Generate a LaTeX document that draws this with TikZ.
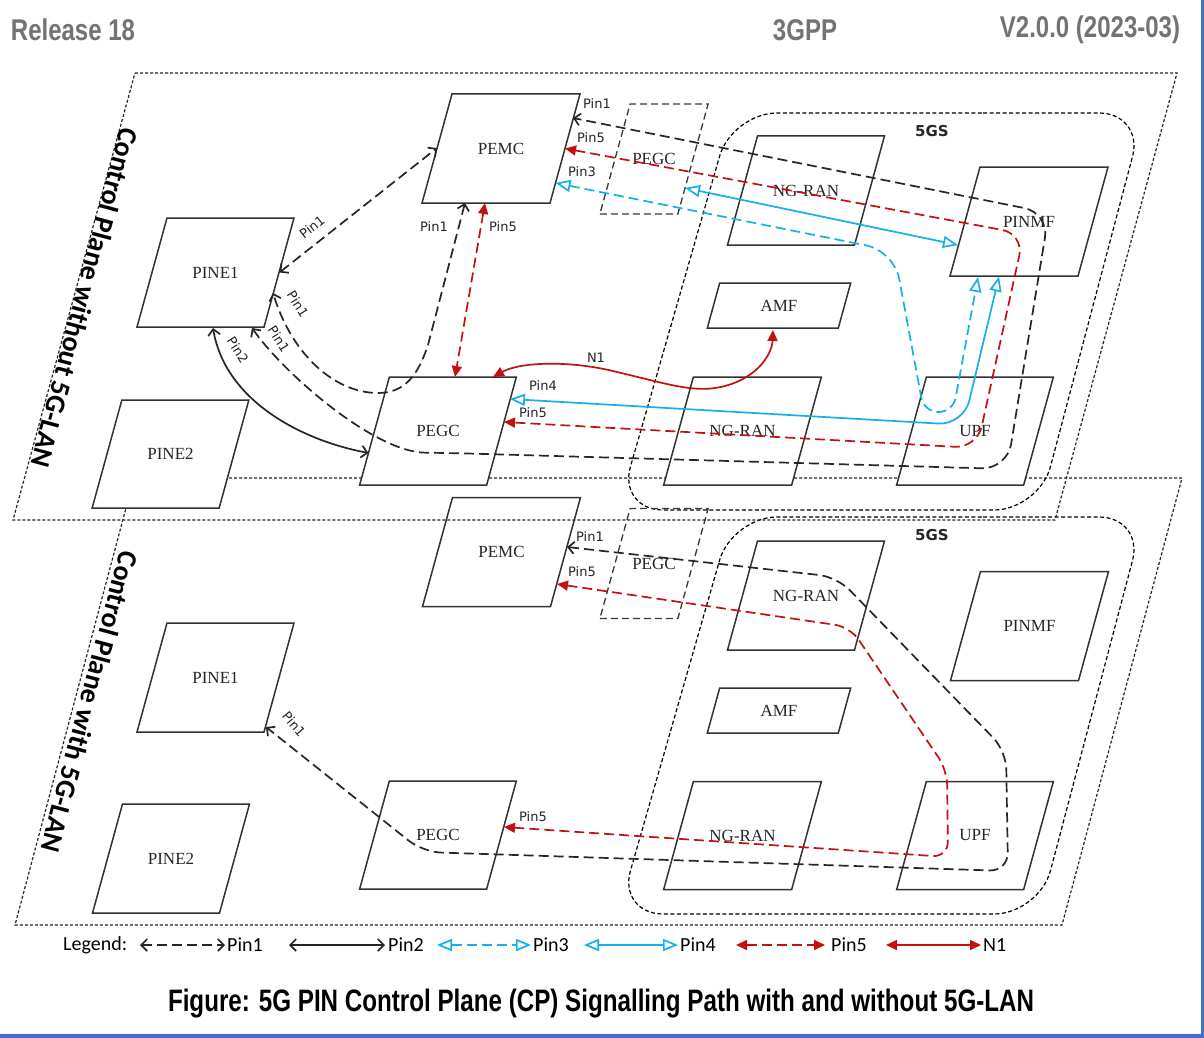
\documentclass[tikz,border=0pt]{standalone}
\usepackage{fontspec}
\setmainfont{Liberation Serif}
\newfontfamily\hdrfont[FakeStretch=0.8]{Liberation Sans}
\newfontfamily\capfont[FakeStretch=0.78]{Liberation Sans}
\newfontfamily\pinfont{DejaVu Sans}
\newfontfamily\calfont{Carlito}
\usetikzlibrary{arrows.meta,calc}
\definecolor{pinblue}{RGB}{20,176,236}
\definecolor{pinred}{RGB}{196,16,16}
\definecolor{boxgray}{RGB}{50,50,50}
\definecolor{hdrgray}{RGB}{115,115,115}
\definecolor{frameblue}{RGB}{68,114,196}
\tikzset{
  boxline/.style={draw=boxgray, fill=white, line width=1.5pt},
  lanline/.style={draw=black!78, line width=1.3pt, dash pattern=on 7pt off 4pt},
  boxtext/.style={font=\fontsize{17}{17}\selectfont, inner sep=0pt, text=black!85},
  region/.style={draw=black!85, line width=1.2pt, dash pattern=on 3pt off 2pt},
  gsline/.style={draw=black, line width=1.2pt, dash pattern=on 4pt off 2.5pt, rounded corners=45pt},
  pbarb/.tip={Straight Barb[length=6pt,width=12pt]},
  popen/.tip={Triangle[open,length=15pt,width=12pt]},
  pfill/.tip={Triangle[length=11pt,width=10pt]},
  pindash/.style={dash pattern=on 10pt off 5pt},
  pinone/.style={line width=1.7pt, draw=black!85, pindash, pbarb-pbarb},
  pintwo/.style={line width=1.7pt, draw=black!85, pbarb-pbarb},
  pinthree/.style={line width=1.7pt, draw=pinblue, pindash, popen-popen},
  pinfour/.style={line width=1.7pt, draw=pinblue, popen-popen},
  pinfive/.style={line width=1.7pt, draw=pinred, pindash, pfill-pfill},
  sigN/.style={line width=1.7pt, draw=pinred, pfill-pfill},
  plabel/.style={font=\pinfont\fontsize{13}{13}\selectfont, inner sep=0pt, text=black!85},
  hdr/.style={font=\hdrfont\bfseries\fontsize{30}{30}\selectfont, text=hdrgray, inner sep=0pt},
  capt/.style={font=\capfont\bfseries\fontsize{31}{31}\selectfont, text=black, inner sep=0pt},
  regl/.style={font=\calfont\bfseries\fontsize{28}{28}\selectfont, text=black, inner sep=0pt},
  gslabel/.style={font=\pinfont\bfseries\fontsize{15}{15}\selectfont, text=black!85, inner sep=0pt},
  legtext/.style={font=\calfont\fontsize{20}{20}\selectfont, text=black, inner sep=0pt},
}
\newcommand\pgbox[7]{%
  \pgfmathsetmacro\pbhw{#5/2}%
  \pgfmathsetmacro\pbhh{#6/2}%
  \pgfmathsetmacro\pbo{0.275*#6/2}%
  \draw[#1] ({#3-\pbhw-\pbo},{#4+\pbhh}) -- ({#3+\pbhw-\pbo},{#4+\pbhh}) -- ({#3+\pbhw+\pbo},{#4-\pbhh}) -- ({#3-\pbhw+\pbo},{#4-\pbhh}) -- cycle;
  \node[boxtext] (#2) at (#3,#4) {#7};}
\begin{document}
\begin{tikzpicture}[x=1pt,y=-1pt]
\useasboundingbox (0,0) rectangle (1204,1038);
\fill[white] (0,0) rectangle (1204,1038);

% header
\node[hdr] (rel) at (73,30) {Release 18};
\node[hdr] (gpp) at (805,30) {3GPP};
\node[hdr] (ver) at (1090,30) {V2.0.0 (2023-03)};

% lower region and 5GS areas
\draw[region] (134,478) -- (1182,478) -- (1062,925) -- (15,925) -- cycle;
\draw[gsline] (938,113) -- (1144,113) -- (1039,510) -- (618,510) -- (732,113) -- cycle;
\draw[gsline] (938,517) -- (1144,517) -- (1039,914) -- (618,914) -- (732,517) -- cycle;
\node[gslabel] (gs1) at (932,131) {5GS};
\node[gslabel] (gs2) at (932,535) {5GS};

% boxes upper
\pgbox{boxline}{pemcU}{501}{148.5}{128}{109}{PEMC}
\pgbox{lanline}{lanU}{654}{159}{78}{110}{PEGC}
\pgbox{boxline}{ngtU}{806}{190.5}{127}{109}{NG-RAN}
\pgbox{boxline}{pinmfU}{1029}{221.5}{128}{109}{PINMF}
\pgbox{boxline}{amfU}{779}{305.5}{131}{45}{AMF}
\pgbox{boxline}{ngbU}{742.5}{431}{128}{108}{NG-RAN}
\pgbox{boxline}{upfU}{975}{431}{127}{108}{UPF}
\pgbox{boxline}{pegcU}{438}{431}{127}{108}{PEGC}
\pgbox{boxline}{pine1U}{215.5}{272.5}{127}{109}{PINE1}
\pgbox{boxline}{pine2U}{170.5}{454}{127}{108}{PINE2}
% boxes lower
\pgbox{boxline}{pemcL}{501.5}{552}{128}{109}{PEMC}
\pgbox{lanline}{lanL}{654}{563.5}{78}{110}{PEGC}
\pgbox{boxline}{ngtL}{806}{595.5}{127}{109}{NG-RAN}
\pgbox{boxline}{pinmfL}{1029.5}{626}{128}{109}{PINMF}
\pgbox{boxline}{amfL}{779}{710.5}{131}{45}{AMF}
\pgbox{boxline}{ngbL}{742.5}{835.5}{128}{108}{NG-RAN}
\pgbox{boxline}{upfL}{975}{835.5}{127}{108}{UPF}
\pgbox{boxline}{pegcL}{438}{835}{127}{108}{PEGC}
\pgbox{boxline}{pine1L}{215.5}{677.5}{127}{109}{PINE1}
\pgbox{boxline}{pine2L}{171}{858.5}{127}{109}{PINE2}

% upper region on top
\draw[region] (135,73) -- (1177,73) -- (1055,520) -- (13,520) -- cycle;
\node[regl, rotate=-105] (rl1) at (85,298) {Control Plane without 5G-LAN};
\node[regl, rotate=-105] (rl2) at (90,702) {Control Plane with 5G-LAN};

% ---------- upper connectors
\draw[pinone] ($(pine1U.center)+(64,0)$) -- ($(pemcU.center)+(-64,-0.5)$);
\draw[pinone] ($(pemcU.center)+(-36,54.5)$) -- (428,345) .. controls (418,375) and (405,393) .. (378,393) .. controls (335,393) and (292,355) .. ($(pine1U.center)+(57.5,20.5)$);
\draw[pinone, rounded corners=25pt] ($(pine1U.center)+(36.5,55.5)$) .. controls (285,375) and (375,452) .. (450,453) -- (1007,469) -- (1049,213) -- ($(pemcU.center)+(72,-30.5)$);
\draw[pintwo] ($(pine1U.center)+(-2.5,55.5)$) .. controls (225,400) and (300,440) .. ($(pegcU.center)+(-69.5,22)$);
\draw[pinfive] ($(pemcU.center)+(-16,54.5)$) -- ($(pegcU.center)+(17,-54)$);
\draw[sigN] ($(pegcU.center)+(55,-54)$) .. controls (520,362) and (570,360) .. (617,372) .. controls (660,382) and (690,392) .. (715,388) .. controls (755,382) and (772,355) .. ($(amfU.center)+(-6,24.5)$);
\draw[pinfour, rounded corners=25pt] ($(pegcU.center)+(72,-32)$) -- (963.5,425) -- ($(pinmfU.center)+(-30,55)$);
\draw[pinfour] ($(lanU.center)+(31,29)$) -- ($(pinmfU.center)+(-71,23.5)$);
\draw[pinthree, rounded corners=28pt] ($(pemcU.center)+(54.5,34.5)$) -- (894,251) [rounded corners=14pt] -- (924,412) -- (953,412) -- ($(pinmfU.center)+(-51,55.5)$);
\draw[pinfive, rounded corners=22pt] ($(pemcU.center)+(64,0)$) -- (1024,234) -- (977,448) -- ($(pegcU.center)+(66,-9)$);

\node[plabel, rotate=38] (l1) at (312,227) {Pin1};
\node[plabel] (l2) at (434,227) {Pin1};
\node[plabel] (l3) at (503,227) {Pin5};
\node[plabel, rotate=-58] (l4) at (298,304) {Pin1};
\node[plabel, rotate=-58] (l5) at (279,339) {Pin1};
\node[plabel, rotate=-58] (l6) at (238,350) {Pin2};
\node[plabel] (l7) at (597,104) {Pin1};
\node[plabel] (l8) at (591,138) {Pin5};
\node[plabel] (l9) at (582,172) {Pin3};
\node[plabel] (l10) at (596,358) {N1};
\node[plabel] (l11) at (543,386) {Pin4};
\node[plabel] (l12) at (533,413) {Pin5};

% ---------- lower connectors
\draw[pinone, rounded corners=18pt] ($(pemcL.center)+(65.5,-5)$) -- (837,577) -- (1006,751) -- (1008,871) -- (423,852) -- ($(pine1L.center)+(50.5,49.5)$);
\draw[pinfive, rounded corners=15pt] ($(pemcL.center)+(55.5,32)$) -- (850,627) -- (947,770) -- (948,857) -- ($(pegcL.center)+(66,-8)$);
\node[plabel] (m1) at (590,537) {Pin1};
\node[plabel] (m2) at (582,572) {Pin5};
\node[plabel] (m3) at (533,817) {Pin5};
\node[plabel, rotate=-50] (m4) at (294,724) {Pin1};

% ---------- legend
\node[legtext, anchor=west] (lg) at (63,945) {Legend:};
\coordinate (a1) at (140,945); \coordinate (b1) at (225,945);
\coordinate (a2) at (289,945); \coordinate (b2) at (385,945);
\coordinate (a3) at (437,945); \coordinate (b3) at (531,945);
\coordinate (a4) at (584,945); \coordinate (b4) at (678,945);
\coordinate (a5) at (736,945); \coordinate (b5) at (825,945);
\coordinate (a6) at (886,945); \coordinate (b6) at (981,945);
\draw[pinone] (a1) -- (b1);
\draw[pintwo] (a2) -- (b2);
\draw[pinthree] (a3) -- (b3);
\draw[pinfour] (a4) -- (b4);
\draw[pinfive] (a5) -- (b5);
\draw[sigN] (a6) -- (b6);
\node[legtext, anchor=west] (t1) at (227,945) {Pin1};
\node[legtext, anchor=west] (t2) at (388,945) {Pin2};
\node[legtext, anchor=west] (t3) at (533,945) {Pin3};
\node[legtext, anchor=west] (t4) at (680,945) {Pin4};
\node[legtext, anchor=west] (t5) at (831,945) {Pin5};
\node[legtext, anchor=west] (t6) at (983,945) {N1};

% caption and frame
\node[capt] (cap) at (601,1004) {Figure: 5G PIN Control Plane (CP) Signalling Path with  and without 5G-LAN};
\draw[frameblue, line width=3pt] (1202,0) -- (1202,1038);
\draw[frameblue, line width=4pt] (0,1036) -- (1204,1036);
\end{tikzpicture}
\end{document}
